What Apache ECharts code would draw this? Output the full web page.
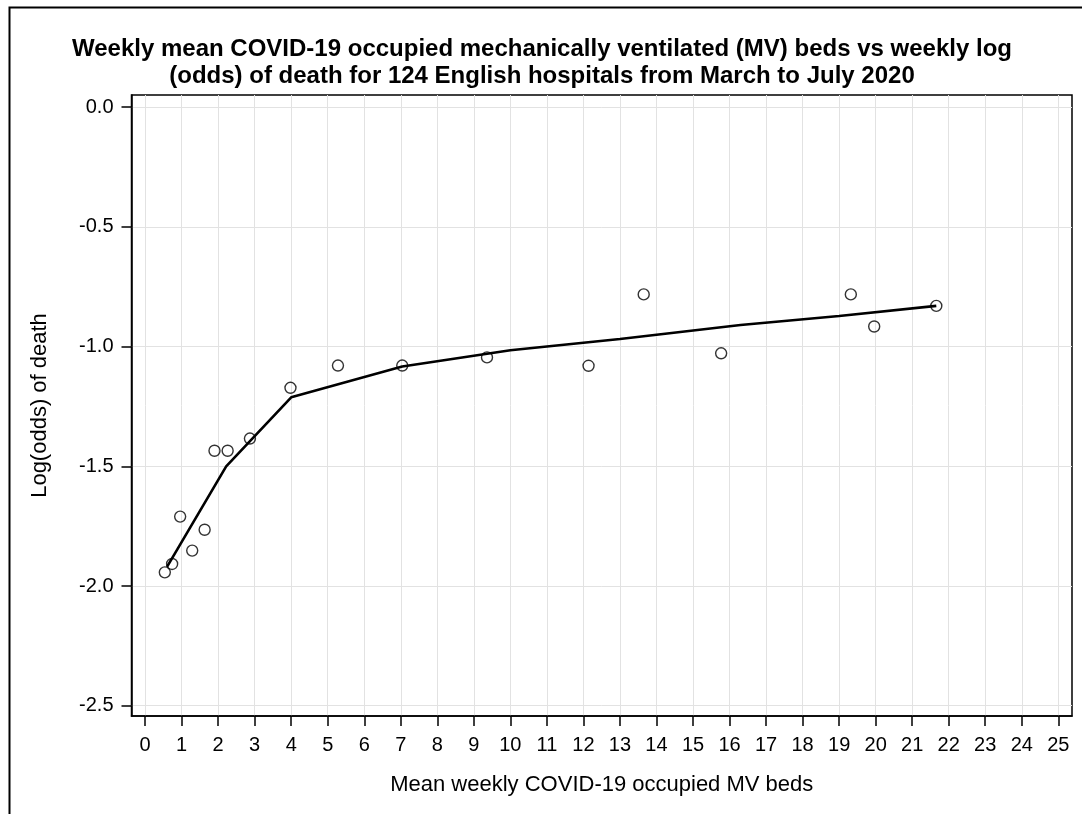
<!DOCTYPE html>
<html>
<head>
<meta charset="utf-8">
<script src="https://cdn.jsdelivr.net/npm/echarts@6/dist/echarts.min.js"></script>
<style>
  html, body { margin: 0; padding: 0; background: #fff; }
  #main { width: 1082px; height: 814px; }
</style>
</head>
<body>
<div id="main"></div>
<script>
// observed weekly points: mean occupied MV beds, log(odds) of death
var bedsObs = [0.54, 0.74, 0.96, 1.29, 1.63, 1.90, 2.26, 2.87, 3.98, 5.28, 7.04, 9.36, 12.14, 13.65, 15.77, 19.32, 19.96, 21.66];
var logOddsObs = [-1.943, -1.908, -1.710, -1.852, -1.765, -1.435, -1.435, -1.384, -1.172, -1.079, -1.079, -1.045, -1.080, -0.782, -1.028, -0.782, -0.916, -0.830];

// fitted curve
var bedsFit = [0.60, 2.22, 4.00, 7.04, 10.0, 13.0, 16.3, 19.0, 21.66];
var logOddsFit = [-1.920, -1.500, -1.212, -1.083, -1.015, -0.968, -0.910, -0.872, -0.830];

// tick labels
var xTicks = [0, 1, 2, 3, 4, 5, 6, 7, 8, 9, 10, 11, 12, 13, 14, 15, 16, 17, 18, 19, 20, 21, 22, 23, 24, 25];
var yTicks = [0, -0.5, -1.0, -1.5, -2.0, -2.5];

var myChart = echarts.init(document.getElementById('main'));

var obsData = bedsObs.map(function (x, i) { return [x, logOddsObs[i]]; });
var fitData = bedsFit.map(function (x, i) { return [x, logOddsFit[i]]; });

var font = '"Liberation Sans", Arial, sans-serif';

var option = {
    backgroundColor: '#fff',
    animation: false,
    title: {
        text: 'Weekly mean COVID-19 occupied mechanically ventilated (MV) beds vs weekly log\n(odds) of death for 124 English hospitals from March to July 2020',
        left: 537,
        top: 31,
        textAlign: 'center',
        textStyle: {
            fontFamily: font,
            fontSize: 24,
            fontWeight: 'bold',
            color: '#000',
            lineHeight: 27
        }
    },
    graphic: [{
        type: 'polyline',
        shape: { points: [[9.5, 820], [9.5, 7.5], [1090, 7.5]] },
        style: { stroke: '#000', lineWidth: 2, fill: null }
    }],
    grid: {
        left: 131.5,
        top: 95,
        width: 940.5,
        height: 621,
        show: true,
        borderColor: '#000',
        borderWidth: 1.5,
        containLabel: false
    },
    xAxis: {
        type: 'value',
        min: -0.372,
        max: 25.375,
        name: 'Mean weekly COVID-19 occupied MV beds',
        nameLocation: 'middle',
        nameGap: 58,
        nameTextStyle: { fontFamily: font, fontSize: 22, color: '#000' },
        axisLine: { show: true, onZero: false, lineStyle: { color: '#000', width: 1.5 } },
        axisTick: { show: true, length: 10, customValues: xTicks, lineStyle: { color: '#000', width: 1.5 } },
        axisLabel: {
            customValues: xTicks,
            margin: 19,
            fontFamily: font,
            fontSize: 20,
            color: '#000'
        },
        splitLine: { show: true, lineStyle: { color: '#e2e2e2', width: 1 } }
    },
    yAxis: {
        type: 'value',
        min: -2.543,
        max: 0.051,
        name: 'Log(odds) of death',
        nameLocation: 'middle',
        nameGap: 81,
        nameRotate: 90,
        nameTextStyle: { fontFamily: font, fontSize: 22, color: '#000' },
        axisLine: { show: true, onZero: false, lineStyle: { color: '#000', width: 1.5 } },
        axisTick: { show: true, length: 10, customValues: yTicks, lineStyle: { color: '#000', width: 1.5 } },
        axisLabel: {
            customValues: yTicks,
            margin: 18,
            fontFamily: font,
            fontSize: 20,
            color: '#000',
            formatter: function (v) { return v.toFixed(1); }
        },
        splitLine: { show: true, lineStyle: { color: '#e2e2e2', width: 1 } }
    },
    series: [{
        name: 'fit',
        type: 'line',
        data: fitData,
        showSymbol: false,
        smooth: false,
        lineStyle: { color: '#000', width: 2.6 },
        z: 2
    }, {
        name: 'observed',
        type: 'scatter',
        data: obsData,
        symbol: 'circle',
        symbolSize: 11,
        itemStyle: { color: 'rgba(255,255,255,0)', borderColor: '#000', borderWidth: 1.4 },
        z: 3
    }]
};

myChart.setOption(option);
</script>
</body>
</html>
